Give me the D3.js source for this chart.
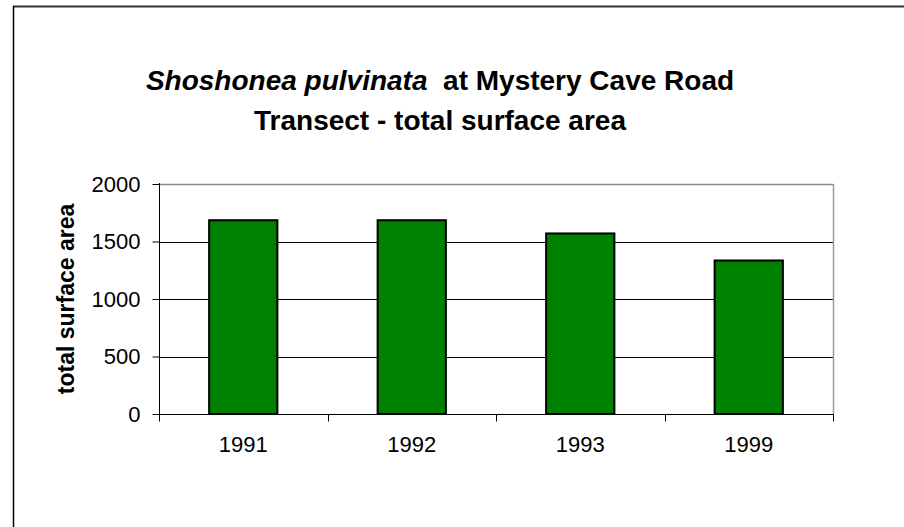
<!DOCTYPE html>
<html>
<head>
<meta charset="utf-8">
<script src="https://cdn.jsdelivr.net/npm/d3@7"></script>
<style>
  html, body { margin: 0; padding: 0; background: #fff; }
  svg { display: block; font-family: "Liberation Sans", Arial, sans-serif; }
</style>
</head>
<body>
<svg id="chart" width="904" height="527"></svg>
<script>
const categories = ["1991", "1992", "1993", "1999"];
const values = [1685, 1685, 1570, 1335];
const yTicks = [0, 500, 1000, 1500, 2000];

const svg = d3.select("#chart");
const W = 904, H = 527;
const plot = { left: 159, right: 833, top: 184, bottom: 414 };

// outer frame (top + left edges visible)
svg.append("line").attr("x1", 13).attr("y1", 6.5).attr("x2", W).attr("y2", 6.5)
  .attr("stroke", "#333").attr("stroke-width", 2);
svg.append("line").attr("x1", 13.5).attr("y1", 6).attr("x2", 13.5).attr("y2", H)
  .attr("stroke", "#000").attr("stroke-width", 1.5);

// title
const title = svg.append("text").attr("x", 440).attr("y", 90)
  .attr("text-anchor", "middle").attr("font-size", 28).attr("font-weight", "bold").attr("fill", "#000");
title.append("tspan").attr("font-style", "italic").text("Shoshonea pulvinata");
title.append("tspan").attr("xml:space", "preserve").text("  at Mystery Cave Road");
svg.append("text").attr("x", 440).attr("y", 130)
  .attr("text-anchor", "middle").attr("font-size", 28).attr("font-weight", "bold").attr("fill", "#000")
  .text("Transect - total surface area");

const x = d3.scaleBand().domain(categories).range([plot.left, plot.right]).padding(0);
const y = d3.scaleLinear().domain([0, 2000]).range([plot.bottom, plot.top]);

// gridlines
svg.append("g").selectAll("line").data(yTicks.filter(t => t > 0 && t < 2000)).join("line")
  .attr("x1", plot.left).attr("x2", plot.right)
  .attr("y1", d => Math.round(y(d)) + 0.5).attr("y2", d => Math.round(y(d)) + 0.5)
  .attr("stroke", "#000").attr("stroke-width", 1);

// plot border top/right (gray)
svg.append("line").attr("x1", plot.left).attr("x2", plot.right)
  .attr("y1", y(2000) + 0.5).attr("y2", y(2000) + 0.5).attr("stroke", "#888").attr("stroke-width", 1.5);
svg.append("line").attr("x1", plot.right + 0.5).attr("x2", plot.right + 0.5)
  .attr("y1", plot.top).attr("y2", plot.bottom).attr("stroke", "#999").attr("stroke-width", 1.5);

// bars
const bw = x.bandwidth() * 0.405;
svg.append("g").selectAll("rect").data(values).join("rect")
  .attr("x", (d, i) => x(categories[i]) + (x.bandwidth() - bw) / 2)
  .attr("y", d => y(d))
  .attr("width", bw)
  .attr("height", d => y(0) - y(d))
  .attr("fill", "#008000").attr("stroke", "#000").attr("stroke-width", 2);

// y axis
const yAxis = d3.axisLeft(y).tickValues(yTicks).tickSize(7).tickPadding(12).tickFormat(d3.format("d"));
const gy = svg.append("g").attr("transform", `translate(${plot.left + 0.5},0)`).call(yAxis);
gy.select(".domain").attr("stroke", "#000").attr("d", `M0,${plot.top - 1}V${plot.bottom}`);
gy.selectAll(".tick line").attr("stroke", "#000");
gy.selectAll(".tick text").attr("font-size", 22).attr("fill", "#000")
  .attr("font-family", "'Liberation Sans', Arial, sans-serif");

// x axis: ticks at band boundaries, labels at band centres
const gx = svg.append("g").attr("transform", `translate(0,${plot.bottom + 0.5})`);
gx.append("line").attr("x1", plot.left).attr("x2", plot.right + 1).attr("stroke", "#000").attr("stroke-width", 1);
const bounds = categories.map(c => x(c)).concat([x(categories[categories.length - 1]) + x.bandwidth()]);
gx.selectAll("line.tk").data(bounds).join("line").attr("class", "tk")
  .attr("x1", d => Math.round(d) + 0.5).attr("x2", d => Math.round(d) + 0.5)
  .attr("y1", 0).attr("y2", 7).attr("stroke", "#000");
gx.selectAll("text").data(categories).join("text")
  .attr("x", d => x(d) + x.bandwidth() / 2)
  .attr("y", 37)
  .attr("text-anchor", "middle").attr("font-size", 22).attr("fill", "#000")
  .text(d => d);

// y axis title
svg.append("text")
  .attr("transform", `translate(74,${(plot.top + plot.bottom) / 2}) rotate(-90)`)
  .attr("text-anchor", "middle").attr("font-size", 23).attr("font-weight", "bold").attr("fill", "#000")
  .text("total surface area");
</script>
</body>
</html>
